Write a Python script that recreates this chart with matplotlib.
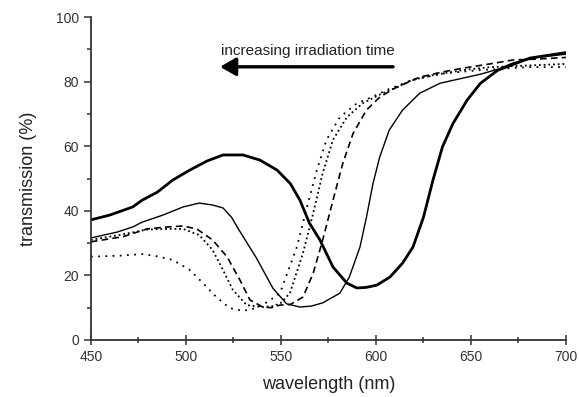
import matplotlib
matplotlib.use("Agg")
from matplotlib import pyplot as plt
from matplotlib.ticker import MultipleLocator

plt.rcParams['font.family'] = ['Liberation Sans', 'DejaVu Sans']

# thick solid curve (shortest irradiation)
wl_a = [450, 460, 472, 477, 485, 493, 502, 511, 519.5, 530, 539, 548, 555, 560,
        565, 570.5, 577.4, 584.7, 590, 595, 600.5, 607.4, 614, 619.5, 625, 630,
        635, 640.5, 648, 655, 664, 681, 700]
tr_a = [37.2, 38.7, 41.2, 43.3, 45.8, 49.5, 52.6, 55.4, 57.3, 57.3, 55.7, 52.6, 48.4, 43.3,
        36.2, 31, 22.6, 17.6, 16.1, 16.3, 17, 19.5, 23.8, 28.8, 38, 49.5,
        59.8, 67, 74.3, 79.5, 83.5, 87.3, 89]

# thin solid curve
wl_b = [450, 463.7, 472, 477, 488, 498.5, 507, 514, 519.5, 524, 528, 537, 545.8, 553,
        560, 566, 572, 581, 586, 591.6, 595, 598.5, 602, 607, 614, 623, 633.7,
        645, 655, 665, 672, 685, 700]
tr_b = [31.6, 33.4, 35, 36.5, 38.7, 41.2, 42.4, 41.8, 40.9, 38, 34, 25.5, 16, 11.2,
        10.2, 10.5, 11.5, 14.5, 19.5, 28.8, 38, 48.6, 56.7, 65, 71.2, 76.4, 79.5,
        81, 82.3, 84, 85.8, 87.5, 88.5]

# dashed curve
wl_c = [450, 467, 479.5, 490, 498.5, 505.7, 514, 521.6, 528.4, 533.7, 540.5, 545,
        549.5, 555, 561.6, 567, 572, 577.4, 582.6, 588, 595, 602, 610, 623, 635,
        646, 660, 672, 685, 700]
tr_c = [30.4, 32, 34.4, 35, 35.3, 34.4, 31, 25.8, 18.6, 12.4, 10.2, 10,
        10.8, 11, 13.3, 20.7, 31, 43.3, 54.8, 64, 71.2, 75.2, 78, 81.4, 83,
        84.2, 85.5, 86.7, 87, 87.5]

# dense dotted curve
wl_d = [450, 465, 479.5, 490, 498.5, 507, 514, 519.5, 524.7, 532, 540.5, 546,
        550, 554.7, 561.6, 567, 572, 577.4, 584.7, 593, 602, 610, 619,
        630, 646, 660, 680, 700]
tr_d = [31, 32.5, 34.2, 34.4, 34.4, 32.5, 27.9, 21.7, 15.5, 10.8, 10.2, 10.5,
        11.5, 14.5, 26.9, 39.3, 51.7, 62, 69, 73.3, 76, 78, 80.5,
        82, 83.6, 84.5, 85, 85.5]

# sparse dotted curve (longest irradiation)
wl_e = [450, 465, 477, 485, 493, 502, 509, 516, 523, 530, 537, 542, 546, 549.5,
        558.4, 563.7, 568.9, 574, 581, 590, 597, 606, 619, 635, 655, 680, 700]
tr_e = [25.8, 26.1, 26.6, 25.9, 24.8, 21.7, 17.6, 13.3, 9.9, 9, 9.9, 11.5, 13, 14.5,
        28.8, 41.2, 52.6, 62, 69, 73.3, 75, 77.5, 80.5, 82.5, 83.6, 84.5, 84.5]

fig = plt.figure(figsize=(5.79, 3.97), dpi=100)
ax = fig.add_axes([0.157, 0.1436, 0.8205, 0.8134])

ax.plot(wl_a, tr_a, '-', color='k', lw=2.0)
ax.plot(wl_b, tr_b, '-', color='k', lw=1.0)
ax.plot(wl_c, tr_c, color='k', lw=1.2, linestyle=(0, (4, 2.5)))
ax.plot(wl_d, tr_d, color='k', lw=1.3, linestyle=(0, (1, 1.6)))
ax.plot(wl_e, tr_e, color='k', lw=1.3, linestyle=(0, (1, 3)))

ax.annotate('', xy=(518, 84.6), xytext=(609, 84.6),
            arrowprops=dict(arrowstyle='-|>,head_length=0.95,head_width=0.55',
                            lw=2.4, color='k', mutation_scale=10,
                            shrinkA=0, shrinkB=0))
ax.text(564, 89.4, 'increasing irradiation time', ha='center', va='center',
        fontsize=11, color='#222222')

ax.set_xlim(450, 700)
ax.set_ylim(0, 100)
ax.xaxis.set_major_locator(MultipleLocator(50))
ax.xaxis.set_minor_locator(MultipleLocator(25))
ax.yaxis.set_major_locator(MultipleLocator(20))
ax.yaxis.set_minor_locator(MultipleLocator(10))

for s in ['top', 'right']:
    ax.spines[s].set_visible(False)
for s in ['left', 'bottom']:
    ax.spines[s].set_linewidth(1.3)
    ax.spines[s].set_color('#333333')

ax.tick_params(axis='x', which='both', direction='inout', colors='#333333',
               labelsize=10, width=1.1)
ax.tick_params(axis='x', which='major', length=7)
ax.tick_params(axis='x', which='minor', length=5)
ax.tick_params(axis='y', which='both', direction='out', colors='#333333',
               labelsize=10, width=1.1)
ax.tick_params(axis='y', which='major', length=5)
ax.tick_params(axis='y', which='minor', length=3)

ax.set_xlabel('wavelength (nm)', fontsize=13, color='#222222', labelpad=9)
ax.set_ylabel('transmission (%)', fontsize=13, color='#222222', labelpad=14)

fig.savefig('out.png', dpi=100)
